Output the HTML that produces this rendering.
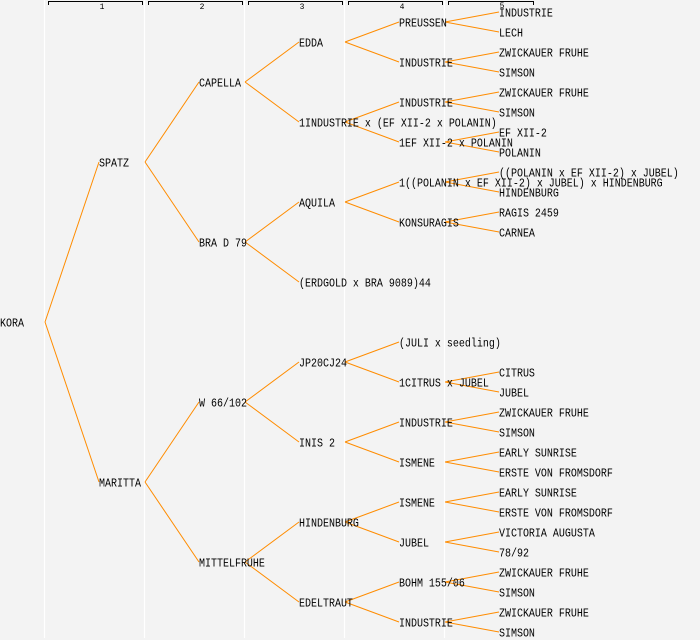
<!DOCTYPE html>
<html><head><meta charset="utf-8"><style>
html,body{margin:0;padding:0;background:#f3f3f3;}
svg{display:block}
text{font-family:"Liberation Mono","DejaVu Sans Mono",monospace;font-size:12px;fill:#000;}
.h{font-size:8px}
</style></head><body>
<svg width="700" height="640" viewBox="0 0 700 640" xmlns="http://www.w3.org/2000/svg">
<rect width="700" height="640" fill="#f3f3f3"/>
<g stroke="#ffffff" stroke-width="1.2">
<line x1="44.5" y1="0" x2="44.5" y2="638"/><line x1="144.5" y1="0" x2="144.5" y2="638"/>
<line x1="244.5" y1="0" x2="244.5" y2="638"/><line x1="344.5" y1="0" x2="344.5" y2="638"/>
<line x1="444.5" y1="0" x2="444.5" y2="638"/>
</g>
<g stroke="#000" fill="none" stroke-width="1">
<path d="M48.5,5V1.5H142.5V5"/><path d="M148.5,5V1.5H242.5V5"/><path d="M248.5,5V1.5H342.5V5"/>
<path d="M348.5,5V1.5H442.5V5"/><path d="M448.5,5V1.5H533.5V5"/>
</g>
<text class="h" x="102" y="9" text-anchor="middle">1</text>
<text class="h" x="202" y="9" text-anchor="middle">2</text>
<text class="h" x="302" y="9" text-anchor="middle">3</text>
<text class="h" x="402" y="9" text-anchor="middle">4</text>
<text class="h" x="502" y="8" text-anchor="middle">5</text>
<g stroke="#ff8c00" stroke-width="1" fill="none">
<path d="M45,322L99,162M45,322L99,482"/>
<path d="M145,162L199,82M145,162L199,242M145,482L199,402M145,482L199,562"/>
<path d="M245,82L299,42M245,82L299,122M245,242L299,202M245,242L299,282M245,402L299,362M245,402L299,442M245,562L299,522M245,562L299,602"/>
<path d="M345,42L399,22M345,42L399,62M345,122L399,102M345,122L399,142M345,202L399,182M345,202L399,222M345,362L399,342M345,362L399,382M345,442L399,422M345,442L399,462M345,522L399,502M345,522L399,542M345,602L399,582M345,602L399,622"/>
<path d="M445,22L499,12M445,22L499,32M445,62L499,52M445,62L499,72M445,102L499,92M445,102L499,112M445,142L499,132M445,142L499,152M445,182L499,172M445,182L499,192M445,222L499,212M445,222L499,232M445,382L499,372M445,382L499,392M445,422L499,412M445,422L499,432M445,462L499,452M445,462L499,472M445,502L499,492M445,502L499,512M445,542L499,532M445,542L499,552M445,582L499,572M445,582L499,592M445,622L499,612M445,622L499,632"/>
</g>
<g transform="scale(0.8333,1)">
<text x="0" y="326.5">KORA</text>
<text x="118.8" y="166.5">SPATZ</text><text x="118.8" y="486.5">MARITTA</text>
<text x="238.8" y="86.5">CAPELLA</text><text x="238.8" y="246.5">BRA D 79</text><text x="238.8" y="406.5">W 66/102</text><text x="238.8" y="566.5">MITTELFRUHE</text>
<text x="358.8" y="46.5">EDDA</text><text x="358.8" y="126.5">1INDUSTRIE x (EF XII-2 x POLANIN)</text>
<text x="358.8" y="206.5">AQUILA</text><text x="358.8" y="286.5">(ERDGOLD x BRA 9089)44</text>
<text x="358.8" y="366.5">JP20CJ24</text><text x="358.8" y="446.5">INIS 2</text>
<text x="358.8" y="526.5">HINDENBURG</text><text x="358.8" y="606.5">EDELTRAUT</text>
<text x="478.8" y="26.5">PREUSSEN</text><text x="478.8" y="66.5">INDUSTRIE</text>
<text x="478.8" y="106.5">INDUSTRIE</text><text x="478.8" y="146.5">1EF XII-2 x POLANIN</text>
<text x="478.8" y="186.5">1((POLANIN x EF XII-2) x JUBEL) x HINDENBURG</text><text x="478.8" y="226.5">KONSURAGIS</text>
<text x="478.8" y="346.5">(JULI x seedling)</text><text x="478.8" y="386.5">1CITRUS x JUBEL</text>
<text x="478.8" y="426.5">INDUSTRIE</text><text x="478.8" y="466.5">ISMENE</text>
<text x="478.8" y="506.5">ISMENE</text><text x="478.8" y="546.5">JUBEL</text>
<text x="478.8" y="586.5">BOHM 155/06</text><text x="478.8" y="626.5">INDUSTRIE</text>
<text x="598.8" y="16.5">INDUSTRIE</text><text x="598.8" y="36.5">LECH</text>
<text x="598.8" y="56.5">ZWICKAUER FRUHE</text><text x="598.8" y="76.5">SIMSON</text>
<text x="598.8" y="96.5">ZWICKAUER FRUHE</text><text x="598.8" y="116.5">SIMSON</text>
<text x="598.8" y="136.5">EF XII-2</text><text x="598.8" y="156.5">POLANIN</text>
<text x="598.8" y="176.5">((POLANIN x EF XII-2) x JUBEL)</text><text x="598.8" y="196.5">HINDENBURG</text>
<text x="598.8" y="216.5">RAGIS 2459</text><text x="598.8" y="236.5">CARNEA</text>
<text x="598.8" y="376.5">CITRUS</text><text x="598.8" y="396.5">JUBEL</text>
<text x="598.8" y="416.5">ZWICKAUER FRUHE</text><text x="598.8" y="436.5">SIMSON</text>
<text x="598.8" y="456.5">EARLY SUNRISE</text><text x="598.8" y="476.5">ERSTE VON FROMSDORF</text>
<text x="598.8" y="496.5">EARLY SUNRISE</text><text x="598.8" y="516.5">ERSTE VON FROMSDORF</text>
<text x="598.8" y="536.5">VICTORIA AUGUSTA</text><text x="598.8" y="556.5">78/92</text>
<text x="598.8" y="576.5">ZWICKAUER FRUHE</text><text x="598.8" y="596.5">SIMSON</text>
<text x="598.8" y="616.5">ZWICKAUER FRUHE</text><text x="598.8" y="636.5">SIMSON</text>
</g>
</svg>
</body></html>
